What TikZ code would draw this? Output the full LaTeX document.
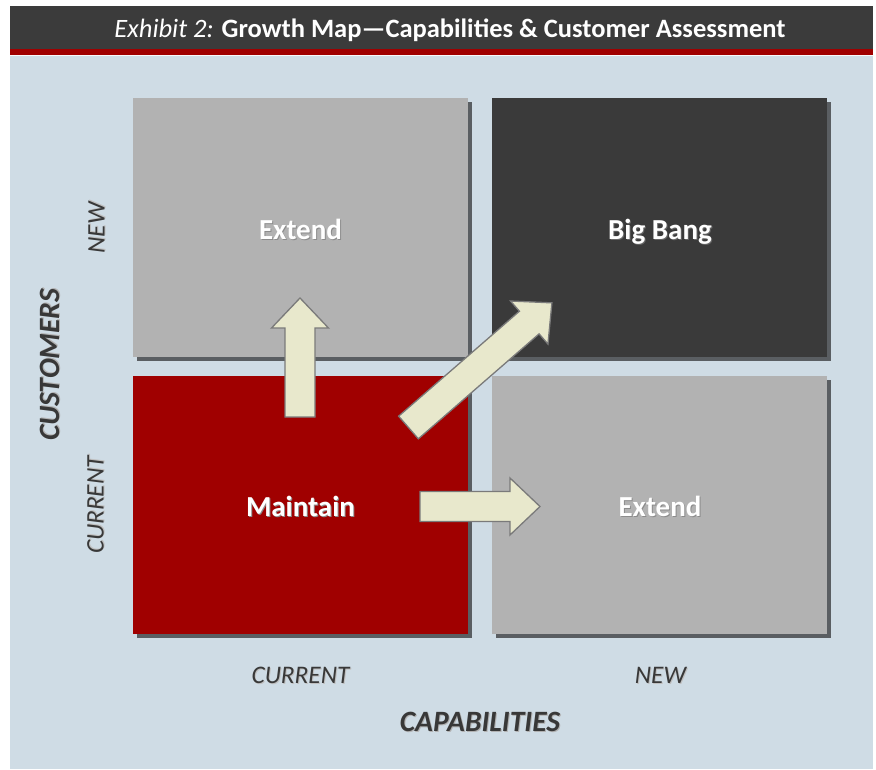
\documentclass[tikz,border=0pt]{standalone}
\usepackage{fontspec}
\setmainfont{Carlito}
\usepackage{xcolor}
\usepackage{tikz}
\usetikzlibrary{positioning}
\definecolor{panelblue}{HTML}{CFDCE5}
\definecolor{barcolor}{HTML}{3B3B3B}
\definecolor{accentred}{HTML}{A00000}
\definecolor{quadgray}{HTML}{B2B2B2}
\definecolor{quaddark}{HTML}{3A3A3A}
\definecolor{shadegray}{HTML}{5A5E62}
\definecolor{arrowfill}{HTML}{E8E8CC}
\definecolor{arrowline}{HTML}{7A7A7A}
\definecolor{axistext}{HTML}{383838}
% text with a small drop shadow
\newcommand{\shadowed}[2]{\rlap{\kern1pt\raisebox{-1pt}{\textcolor{#1}{#2}}}#2}
\tikzset{
    quadrant/.style = {minimum width=335pt, minimum height=259pt, inner sep=0pt},
    quadlbl/.style  = {inner sep=0pt, anchor=base, text=white,
                       font=\fontsize{29}{33}\selectfont\bfseries},
    quadshade/.style = {fill=shadegray},
    axislbl/.style  = {text=axistext, inner sep=0pt,
                       font=\fontsize{25.3}{29}\selectfont\itshape},
    axistitle/.style = {text=axistext, inner sep=0pt,
                       font=\fontsize{29.5}{33}\selectfont\bfseries\itshape},
    movearrow/.style = {fill=arrowfill, draw=arrowline, line width=1.3pt,
                       line join=miter},
}
% block arrow: tail centre (#1,#2), angle #3, length #4
\newcommand{\growtharrow}[4]{%
  \begin{scope}[shift={(#1,#2)}, rotate=#3]
    \draw[movearrow] (0,-15) -- (#4-30,-15) -- (#4-30,-28.5) -- (#4,0)
      -- (#4-30,28.5) -- (#4-30,15) -- (0,15) -- cycle;
  \end{scope}}

\begin{document}
\begin{tikzpicture}[x=1pt, y=-1pt]
\useasboundingbox[fill=white] (0,0) rectangle (876,769);

% header and panel
\fill[panelblue] (10,55) rectangle (873,769);
\fill[barcolor] (10,6) rectangle (873,49);
\fill[accentred] (10,49) rectangle (873,55);
\draw[white!85!panelblue, line width=0.8pt] (10,55.6) -- (873,55.6);
\node[text=white, inner sep=0pt, font=\fontsize{26.5}{30}\selectfont] (title) at (450,30)
    {\textit{Exhibit 2:} \textbf{Growth Map---Capabilities \& Customer Assessment}};

% quadrant shadows
\fill[quadshade] (137,102) rectangle (472,361);
\fill[quadshade] (496,102) rectangle (831,361);
\fill[quadshade] (137,380) rectangle (472,638);
\fill[quadshade] (496,380) rectangle (831,638);

% quadrants
\node[quadrant, fill=quadgray] (extnew) at (300.5,227.5) {};
\node[quadrant, fill=quaddark] (bigbang) at (659.5,227.5) {};
\node[quadrant, fill=accentred, minimum height=258pt] (maintain) at (300.5,505) {};
\node[quadrant, fill=quadgray, minimum height=258pt] (extcap) at (659.5,505) {};
\node[quadlbl] (extnewlbl) at (300.5,239) {\shadowed{black!45}{Extend}};
\node[quadlbl] (bigbanglbl) at (660,239.5) {\shadowed{black!60}{Big Bang}};
\node[quadlbl] (maintainlbl) at (300.5,516.5) {\shadowed{black!45}{Maintain}};
\node[quadlbl] (extcaplbl) at (660,516.5) {\shadowed{black!45}{Extend}};

% moves out of the home quadrant
\growtharrow{300}{417}{90}{119}
\growtharrow{420}{506.5}{0}{120}
\growtharrow{408.5}{427.5}{41}{190}

% axis labels
\node[axislbl, rotate=90] (custnew) at (97,228) {\shadowed{black!25}{NEW}};
\node[axislbl, rotate=90] (custcur) at (96,505) {\shadowed{black!25}{CURRENT}};
\node[axistitle, rotate=90] (customers) at (50,365) {\shadowed{black!30}{CUSTOMERS}};
\node[axislbl] (capcur) at (300.5,676) {\shadowed{black!25}{CURRENT}};
\node[axislbl] (capnew) at (660.5,676) {\shadowed{black!25}{NEW}};
\node[axistitle] (capabilities) at (480,722) {\shadowed{black!30}{CAPABILITIES}};

\end{tikzpicture}
\end{document}
